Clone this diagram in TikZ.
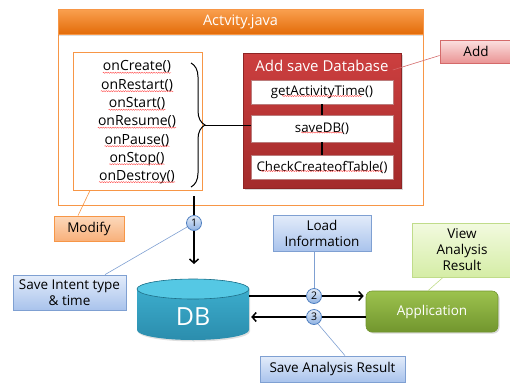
\documentclass[tikz,border=0pt]{standalone}
\usepackage{fontspec}
\setmainfont{Open Sans}
\usetikzlibrary{decorations.pathreplacing,decorations.pathmorphing,shadows,arrows.meta}
\definecolor{orframe}{HTML}{F79646}
\definecolor{orhdtop}{HTML}{FAA050}
\definecolor{orhdbot}{HTML}{E36C09}
\definecolor{redtop}{HTML}{CC3F3F}
\definecolor{redbot}{HTML}{A32B2B}
\definecolor{redline}{HTML}{8E2424}
\definecolor{bluetop}{HTML}{E3ECFA}
\definecolor{bluebot}{HTML}{A9C3EC}
\definecolor{blueline}{HTML}{7FA0D2}
\definecolor{modtop}{HTML}{FCD9BC}
\definecolor{modbot}{HTML}{F8B07A}
\definecolor{addtop}{HTML}{FBE0E0}
\definecolor{addbot}{HTML}{EA9494}
\definecolor{addline}{HTML}{D46A6A}
\definecolor{vtop}{HTML}{F2FADF}
\definecolor{vbot}{HTML}{D5EDA6}
\definecolor{vline}{HTML}{C0DC8A}
\definecolor{apptop}{HTML}{9CC24E}
\definecolor{appbot}{HTML}{72962E}
\definecolor{dbtop}{HTML}{3FB2D2}
\definecolor{dbbot}{HTML}{2B8DAD}
\definecolor{dbcap}{HTML}{55C8E4}
\definecolor{dbline}{HTML}{1F6F88}
\definecolor{numtop}{HTML}{E2EBF8}
\definecolor{numbot}{HTML}{8EB1E2}
\definecolor{numline}{HTML}{4F7FC0}
\newcommand\fsz{\fontsize{13.5}{16}\selectfont}
\tikzset{
  basebox/.style={rectangle, inner sep=1pt, align=center, font=\fsz},
  callout/.style={basebox, draw=blueline, line width=0.8pt, top color=bluetop, bottom color=bluebot,
     drop shadow={opacity=0.25, shadow xshift=1pt, shadow yshift=-1pt}},
  meth/.style={inner sep=0pt, font=\fontsize{14}{16}\selectfont},
  whitebox/.style={basebox, fill=white, draw=redline!60, line width=0.5pt, font=\fontsize{13.3}{15}\selectfont},
  squig/.style={draw=red!75, line width=0.35pt, decorate, decoration={snake, amplitude=0.6pt, segment length=2.4pt}},
  numc/.style={circle, draw=numline, line width=0.8pt, top color=numtop, bottom color=numbot,
     minimum size=15pt, inner sep=0pt, font=\fontsize{10.5}{10.5}\selectfont},
  arr/.style={line width=1.5pt, -{Straight Barb[length=4pt,width=9pt]}},
  leader/.style={line width=0.6pt}
}
\begin{document}
\begin{tikzpicture}[x=1pt,y=-1pt]
\useasboundingbox (0,0) rectangle (510,383);

% outer frame and header
\node[rectangle, draw=orframe, line width=1pt, fill=white, minimum width=365pt, minimum height=196pt] (frame) at (240.5,107) {};
\node[rectangle, top color=orhdtop, bottom color=orhdbot, draw=orframe, line width=0.6pt,
  minimum width=365pt, minimum height=25pt, text=white, font=\fontsize{14.5}{16}\selectfont,
  drop shadow={opacity=0.25, shadow xshift=0pt, shadow yshift=-1.5pt}] (hdr) at (240.5,21.5) {Actvity.java};

% lifecycle box
\node[rectangle, draw=orframe, line width=1pt, minimum width=129pt, minimum height=138pt] (life) at (137.5,121) {};
\foreach \t/\yy [count=\i] in {onCreate()/67,onRestart()/85.5,onStart()/104,onResume()/122,onPause()/140.5,onStop()/159,onDestroy()/177}{
  \node[meth] (m\i) at (137,\yy) {\t};
  \draw[squig] ([yshift=-1.8pt]m\i.base west) -- ([yshift=-1.8pt]m\i.base east);
}
\draw[line width=1pt, decorate, decoration={brace, amplitude=14pt, aspect=0.5}] (191,63) -- (191,187);
\coordinate (bt) at (205,125);

% red box
\node[rectangle, top color=redtop, bottom color=redbot, draw=redline, line width=0.6pt,
  minimum width=158pt, minimum height=135pt,
  drop shadow={opacity=0.3, shadow xshift=1.5pt, shadow yshift=-1.5pt}] (addbox) at (322,120.5) {};
\node[text=white, font=\fontsize{15}{17}\selectfont, inner sep=1pt] (addtitle) at (322,66) {Add save Database};
\node[whitebox, minimum width=142pt, minimum height=24pt] (getact) at (322,92) {getActivityTime()};
\node[whitebox, minimum width=142pt, minimum height=27pt] (savedb) at (322,128.5) {saveDB()};
\node[whitebox, minimum width=142pt, minimum height=24pt] (check) at (322,167) {CheckCreateofTable()};
\foreach \n/\w in {getact/40,savedb/21,check/61}{
  \draw[squig] ([xshift=-\w pt, yshift=-4pt]\n.center) -- ([xshift=\w pt, yshift=-4pt]\n.center);
}
\draw[line width=1.5pt] (getact.south) -- (savedb.north);
\draw[line width=1.5pt] (savedb.south) -- (check.north);
\draw[line width=1pt] (bt) -- (savedb.west |- bt);

% Add callout
\node[basebox, draw=addline, line width=0.8pt, top color=addtop, bottom color=addbot,
  minimum width=72pt, minimum height=23pt,
  drop shadow={opacity=0.25, shadow xshift=1pt, shadow yshift=-1pt}] (add) at (476,51.5) {Add};
\draw[leader, draw=addline] ([yshift=-4pt]add.west) -- ([xshift=3pt,yshift=-4pt]addtitle.east);

% Modify callout
\node[basebox, draw=orframe, line width=0.8pt, top color=modtop, bottom color=modbot,
  minimum width=70pt, minimum height=25pt,
  drop shadow={opacity=0.25, shadow xshift=1pt, shadow yshift=-1pt}] (modify) at (89,228.5) {Modify};
\draw[leader, draw=orframe] ([xshift=-11pt]modify.north) -- ([xshift=-47.5pt]life.south);

% DB cylinder
\node[rectangle, minimum width=112pt, minimum height=61pt, inner sep=0pt] (db) at (193,309.5) {};
\shade[top color=dbtop, bottom color=dbbot, drop shadow={opacity=0.25, shadow xshift=1pt, shadow yshift=-1.5pt}]
  (137,289) -- (137,330) arc[start angle=180, end angle=0, x radius=56, y radius=10]
  -- (249,289) arc[start angle=0, end angle=-180, x radius=56, y radius=10] -- cycle;
\fill[dbcap] (193,289) ellipse[x radius=56, y radius=10];
\draw[dbline, line width=0.6pt] (193,289) ellipse[x radius=56, y radius=10];
\node[text=white, font=\fontsize{25}{27}\selectfont, inner sep=0pt] (dblabel) at (193,317) {DB};

% Application
\node[basebox, rounded corners=6pt, top color=apptop, bottom color=appbot, draw=appbot, line width=0.6pt,
  minimum width=132pt, minimum height=41pt, text=white, font=\fontsize{13.5}{15}\selectfont,
  drop shadow={opacity=0.3, shadow xshift=1.5pt, shadow yshift=-1.5pt}] (app) at (432,311.5) {Application};

% other callouts
\node[callout, minimum width=113pt, minimum height=35pt] (saveint) at (69.5,292.5) {Save Intent type\\\& time};
\node[callout, minimum width=98pt, minimum height=36pt] (loadinfo) at (322,233) {Load\\Information};
\node[basebox, draw=vline, line width=0.8pt, top color=vtop, bottom color=vbot,
  minimum width=100pt, minimum height=54pt,
  drop shadow={opacity=0.2, shadow xshift=1pt, shadow yshift=-1pt}] (view) at (462,250) {View\\Analysis\\Result};
\node[callout, minimum width=145pt, minimum height=26pt] (saveres) at (332.5,369) {Save Analysis Result};

% arrows
\coordinate (a1s) at (194,196);
\coordinate (a1e) at (194,264);
\draw[arr] (a1s) -- (a1e);
\draw[arr] ([yshift=13.5pt]db.east) -- ([xshift=-2pt,yshift=15.5pt]app.west);
\draw[arr] ([yshift=-5.5pt]app.west) -- ([xshift=2pt,yshift=-7.5pt]db.east);

\node[numc] (c1) at (194,223) {1};
\node[numc] (c2) at (314,296) {2};
\node[numc] (c3) at (314,317) {3};

% leaders
\draw[leader, draw=blueline] ([xshift=35.5pt]saveint.north) -- (c1.210);
\draw[leader, draw=blueline] ([xshift=-8pt]loadinfo.south) -- (c2.north);
\draw[leader, draw=blueline] ([xshift=12.5pt]saveres.north) -- (c3.-60);
\draw[leader, draw=vline] ([xshift=-19pt]view.south) -- ([xshift=-4pt]app.north);
\end{tikzpicture}
\end{document}
